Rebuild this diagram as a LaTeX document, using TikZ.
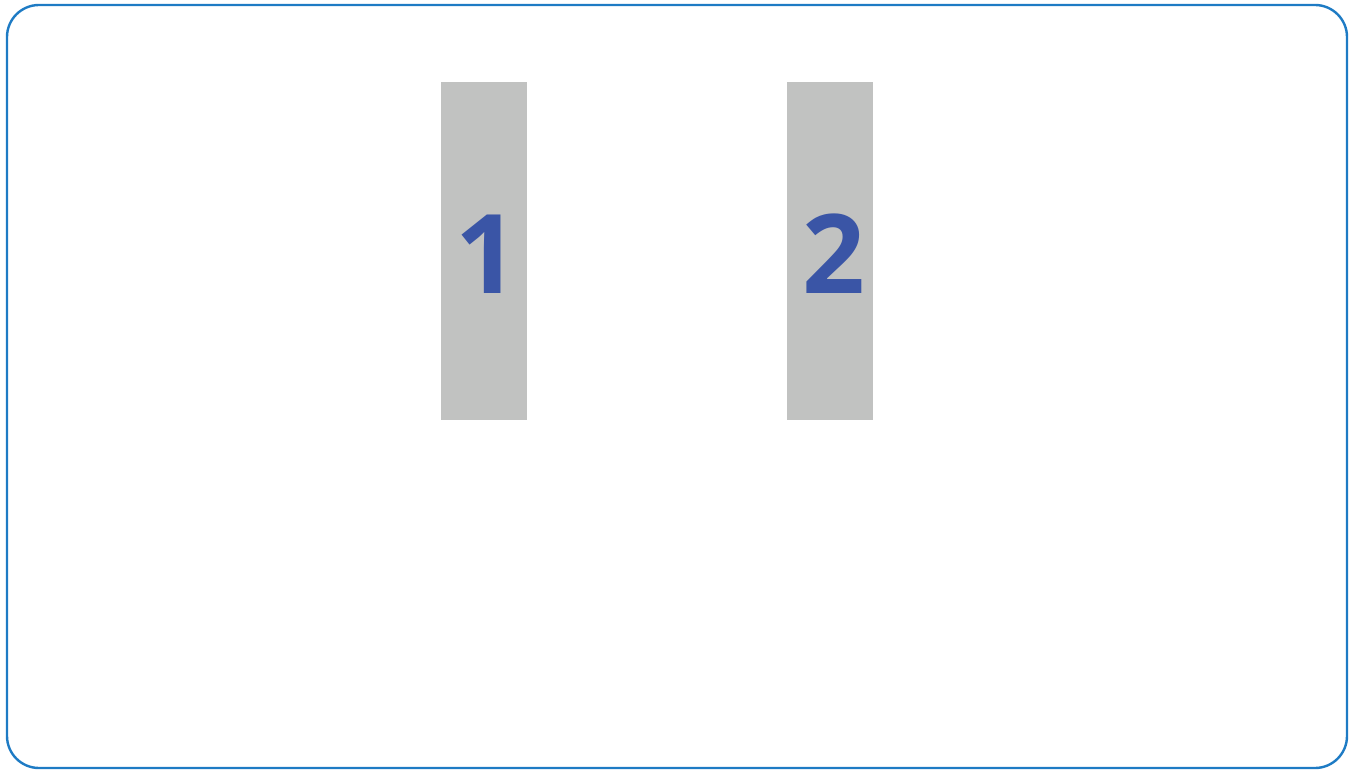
\documentclass[tikz,border=0pt]{standalone}
\usepackage{fontspec}
\setmainfont{Open Sans}
\definecolor{frameblue}{HTML}{1E7BC4}
\definecolor{bargray}{HTML}{C1C2C1}
\definecolor{digitblue}{HTML}{3A55A6}
\begin{document}
\begin{tikzpicture}[x=1pt,y=-1pt,
  frame/.style={draw=frameblue,line width=2.4pt,rounded corners=32pt},
  bar/.style={fill=bargray,draw=none,minimum width=86pt,minimum height=338pt,inner sep=0pt},
  digit/.style={text=digitblue,font=\fontsize{110}{110}\selectfont\bfseries,inner sep=0pt}]
\useasboundingbox (0,0) rectangle (1353,770);
\draw[frame] (7,5) rectangle (1347,768);
\node[bar] (bar1) at (484,251) {};
\node[bar] (bar2) at (830,251) {};
\node[digit] (d1) at (487,254) {1};
\node[digit] (d2) at (834,254) {2};
\end{tikzpicture}
\end{document}
